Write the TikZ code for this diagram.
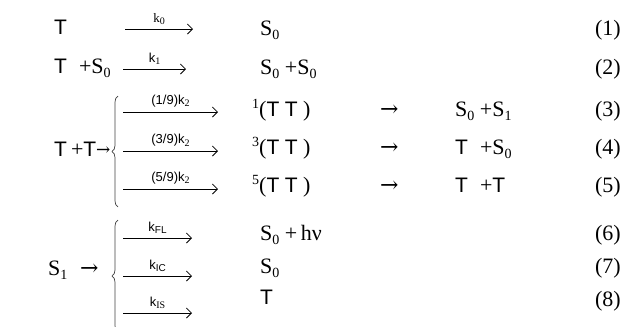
\documentclass[tikz,border=0pt]{standalone}
\usepackage{fontspec}
\setmainfont{Liberation Serif}
\newfontfamily\sansf{Liberation Sans}
\newfontfamily\arrf{DejaVu Serif}
\usetikzlibrary{arrows.meta,decorations.pathreplacing}
\newcommand\lowsub[1]{\raisebox{-0.45ex}{\fontsize{14pt}{14pt}\selectfont #1}}
\newcommand\ksub[1]{\raisebox{-0.35ex}{\fontsize{10pt}{10pt}\selectfont #1}}
\newcommand\TT{{\sansf\fontsize{21pt}{21pt}\selectfont T}}
\newcommand\Sz{S\lowsub{0}}
\newcommand\So{S\lowsub{1}}
\newcommand\rarr{{\arrf →}}
\newcommand\supn[1]{\raisebox{0.75ex}{\fontsize{14pt}{14pt}\selectfont #1}}
\newcommand\gap{\hspace{12pt}}
\begin{document}
\begin{tikzpicture}[x=1pt,y=-1pt,
  txt/.style={inner sep=0pt, anchor=base west, font=\fontsize{22pt}{22pt}\selectfont},
  num/.style={inner sep=0pt, anchor=base east, font=\fontsize{22pt}{22pt}\selectfont},
  klab/.style={inner sep=0pt, anchor=base, font=\fontsize{13pt}{13pt}\selectfont},
  rarrow/.style={line width=0.8pt, -{Straight Barb[length=5pt,width=10pt,line width=0.8pt]}},
  bracestyle/.style={line width=0.7pt, draw=black!75, decorate, decoration={brace, amplitude=6pt}}]
\useasboundingbox (0,0) rectangle (625,327);
% row 1
\node[txt] (r1a) at (54,34) {\TT};
\coordinate (a1s) at (125,29); \coordinate (a1e) at (193,29);
\draw[rarrow] (a1s) -- (a1e) node[klab, midway, above=4pt] (k0) {k\ksub{0}};
\node[txt] (r1p) at (260,35) {\Sz};
\node[num] (n1) at (621,35) {(1)};
% row 2
\node[txt] (r2a) at (54,73) {\TT\gap+\Sz};
\coordinate (a2s) at (123,69); \coordinate (a2e) at (186,69);
\draw[rarrow] (a2s) -- (a2e) node[klab, midway, above=4pt] (k1) {{\sansf k}\ksub{1}};
\node[txt] (r2p) at (260,74) {\Sz\ +\Sz};
\node[num] (n2) at (621,74) {(2)};
% rows 3-5
\node[txt] (r3a) at (54,156) {\TT\hspace{4pt}+\TT};
\node[txt, font=\fontsize{17pt}{17pt}\selectfont] (r3b) at (96,155) {\rarr};
\draw[bracestyle] (118,207) -- (118,96) node[midway] (br1) {};
\coordinate (a3s) at (123,112); \coordinate (a3e) at (218,112);
\coordinate (a4s) at (123,151); \coordinate (a4e) at (218,151);
\coordinate (a5s) at (123,189); \coordinate (a5e) at (218,189);
\draw[rarrow] (a3s) -- (a3e) node[klab, midway, above=4pt] (k3) {{\sansf (1/9)k}\ksub{2}};
\draw[rarrow] (a4s) -- (a4e) node[klab, midway, above=4pt] (k4) {{\sansf (3/9)k}\ksub{2}};
\draw[rarrow] (a5s) -- (a5e) node[klab, midway, above=4pt] (k5) {{\sansf (5/9)k}\ksub{2}};
\node[txt] (r3p) at (252,116) {\supn{1}(\TT\ \TT\ )};
\node[txt] (r4p) at (252,154) {\supn{3}(\TT\ \TT\ )};
\node[txt] (r5p) at (252,192) {\supn{5}(\TT\ \TT\ )};
\node[txt] (r3r) at (380,116) {\rarr};
\node[txt] (r4r) at (380,154) {\rarr};
\node[txt] (r5r) at (380,192) {\rarr};
\node[txt] (r3q) at (455,116) {\Sz\ +\So};
\node[txt] (r4q) at (455,154) {\TT\gap+\Sz};
\node[txt] (r5q) at (455,192) {\TT\gap+\TT};
\node[num] (n3) at (621,116) {(3)};
\node[num] (n4) at (621,154) {(4)};
\node[num] (n5) at (621,192) {(5)};
% rows 6-8
\node[txt] (r6a) at (48,275) {\So};
\node[txt] (r6b) at (80,275) {\rarr};
\draw[bracestyle] (118,332) -- (118,220) node[midway] (br2) {};
\coordinate (a6s) at (123,238); \coordinate (a6e) at (192,238);
\coordinate (a7s) at (123,276); \coordinate (a7e) at (192,276);
\coordinate (a8s) at (123,313); \coordinate (a8e) at (192,313);
\draw[rarrow] (a6s) -- (a6e) node[klab, midway, above=4pt] (k6) {{\sansf k}\ksub{\sansf FL}};
\draw[rarrow] (a7s) -- (a7e) node[klab, midway, above=4pt] (k7) {{\sansf k}\ksub{\sansf IC}};
\draw[rarrow] (a8s) -- (a8e) node[klab, midway, above=4pt] (k8) {{\sansf k}\ksub{IS}};
\node[txt] (r6p) at (260,240) {\Sz\ +\,hν};
\node[txt] (r7p) at (260,273) {\Sz};
\node[txt] (r8p) at (260,304) {\TT};
\node[num] (n6) at (621,240) {(6)};
\node[num] (n7) at (621,273) {(7)};
\node[num] (n8) at (621,306) {(8)};
\end{tikzpicture}
\end{document}
